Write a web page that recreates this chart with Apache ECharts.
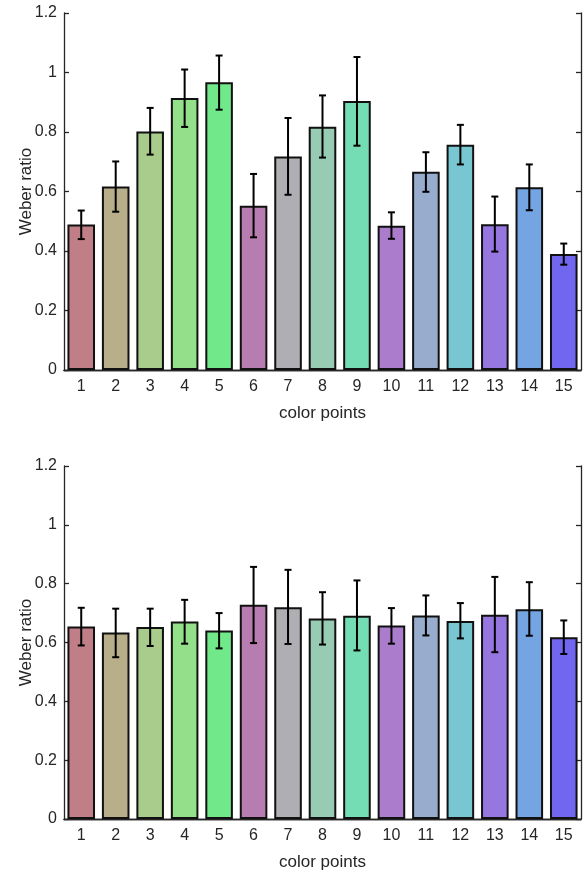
<!DOCTYPE html>
<html>
<head>
<meta charset="utf-8">
<script src="https://cdn.jsdelivr.net/npm/echarts@6/dist/echarts.min.js"></script>
<style>
  html, body { margin: 0; padding: 0; background: #fff; }
  #chart { width: 584px; height: 872px; }
</style>
</head>
<body>
<div id="chart"></div>
<script>
// color points 1..15
const categories = ['1','2','3','4','5','6','7','8','9','10','11','12','13','14','15']
const barColors = ['#c07f86','#b9ae8a','#a9cb8c','#94df89','#71e88a','#b87db0','#aeaeb3','#98cbb4',
                   '#75ddb4','#aa7ccb','#98accd','#78c6d2','#9677e0','#74a4e2','#7066ef']

// top panel
const topMean = [0.489,0.617,0.802,0.914,0.967,0.552,0.718,0.818,0.904,0.485,0.666,0.757,0.490,0.614,0.390]
const topHigh = [0.536,0.701,0.881,1.010,1.057,0.659,0.847,0.923,1.052,0.530,0.732,0.824,0.583,0.691,0.425]
const topLow  = [0.440,0.532,0.724,0.817,0.875,0.446,0.589,0.714,0.754,0.441,0.599,0.691,0.398,0.537,0.354]

// bottom panel
const botMean = [0.654,0.634,0.653,0.671,0.641,0.728,0.720,0.682,0.691,0.658,0.692,0.673,0.694,0.713,0.618]
const botHigh = [0.718,0.715,0.715,0.745,0.700,0.857,0.847,0.771,0.811,0.717,0.760,0.734,0.823,0.805,0.675]
const botLow  = [0.590,0.550,0.588,0.596,0.580,0.598,0.595,0.593,0.573,0.596,0.624,0.614,0.567,0.623,0.561]

const axisColor = '#262626'
const font = 'Liberation Sans, Arial, sans-serif'

let chart = echarts.init(document.getElementById('chart'), null, { renderer: 'canvas' })

function xAxes (gridIndex) {
  return [
    {
      type: 'category', gridIndex: gridIndex, data: categories, position: 'bottom',
      name: 'color points', nameLocation: 'middle', nameGap: 35, nameMoveOverlap: false,
      nameTextStyle: { color: axisColor, fontSize: 17, fontFamily: font },
      axisLine: { lineStyle: { color: axisColor, width: 1.3 } },
      axisTick: { inside: true, alignWithLabel: true, length: 5, lineStyle: { color: axisColor, width: 1.3 } },
      axisLabel: { color: axisColor, fontSize: 16, fontFamily: font, margin: 9 },
      splitLine: { show: false }
    },
    {
      type: 'category', gridIndex: gridIndex, data: categories, position: 'top',
      axisLine: { lineStyle: { color: axisColor, width: 1.3 } },
      axisTick: { inside: true, alignWithLabel: true, length: 5, lineStyle: { color: axisColor, width: 1.3 } },
      axisLabel: { show: false },
      splitLine: { show: false }
    }
  ]
}

function yAxes (gridIndex) {
  return [
    {
      type: 'value', gridIndex: gridIndex, min: 0, max: 1.2, interval: 0.2, position: 'left',
      name: 'Weber ratio', nameLocation: 'middle', nameGap: 29, nameRotate: 90, nameMoveOverlap: false,
      nameTextStyle: { color: axisColor, fontSize: 17, fontFamily: font },
      axisLine: { show: true, lineStyle: { color: axisColor, width: 1.3 } },
      axisTick: { show: true, inside: true, length: 5, lineStyle: { color: axisColor, width: 1.3 } },
      axisLabel: { color: axisColor, fontSize: 16, fontFamily: font, margin: 7 },
      splitLine: { show: false }
    },
    {
      type: 'value', gridIndex: gridIndex, min: 0, max: 1.2, interval: 0.2, position: 'right',
      axisLine: { show: true, lineStyle: { color: axisColor, width: 1.3 } },
      axisTick: { show: true, inside: true, length: 5, lineStyle: { color: axisColor, width: 1.3 } },
      axisLabel: { show: false },
      splitLine: { show: false }
    }
  ]
}

function barSeries (axisBase, mean) {
  return {
    type: 'bar',
    xAxisIndex: axisBase, yAxisIndex: axisBase,
    barWidth: '80%',
    data: mean.map((v, i) => ({
      value: v,
      itemStyle: { color: barColors[i], borderColor: '#111', borderWidth: 2 }
    })),
    z: 2
  }
}

function errorSeries (axisBase, high, low) {
  return {
    type: 'custom',
    xAxisIndex: axisBase, yAxisIndex: axisBase,
    data: categories.map((c, i) => [i, low[i], high[i]]),
    renderItem: function (params, api) {
      const lo = api.coord([api.value(0), api.value(1)])
      const hi = api.coord([api.value(0), api.value(2)])
      const w = 3.5
      const style = { stroke: '#000', lineWidth: 2 }
      return {
        type: 'group',
        children: [
          { type: 'line', shape: { x1: hi[0], y1: hi[1], x2: lo[0], y2: lo[1] }, style: style },
          { type: 'line', shape: { x1: hi[0] - w, y1: hi[1], x2: hi[0] + w, y2: hi[1] }, style: style },
          { type: 'line', shape: { x1: lo[0] - w, y1: lo[1], x2: lo[0] + w, y2: lo[1] }, style: style }
        ]
      }
    },
    z: 5
  }
}

const option = {
  animation: false,
  backgroundColor: '#fff',
  grid: [
    { left: 64, top: 13, width: 517, height: 357 },
    { left: 64, top: 466, width: 517, height: 357 }
  ],
  xAxis: xAxes(0).concat(xAxes(1)),
  yAxis: yAxes(0).concat(yAxes(1)),
  series: [
    barSeries(0, topMean),
    errorSeries(0, topHigh, topLow),
    barSeries(2, botMean),
    errorSeries(2, botHigh, botLow)
  ]
}

chart.setOption(option)
</script>
</body>
</html>
